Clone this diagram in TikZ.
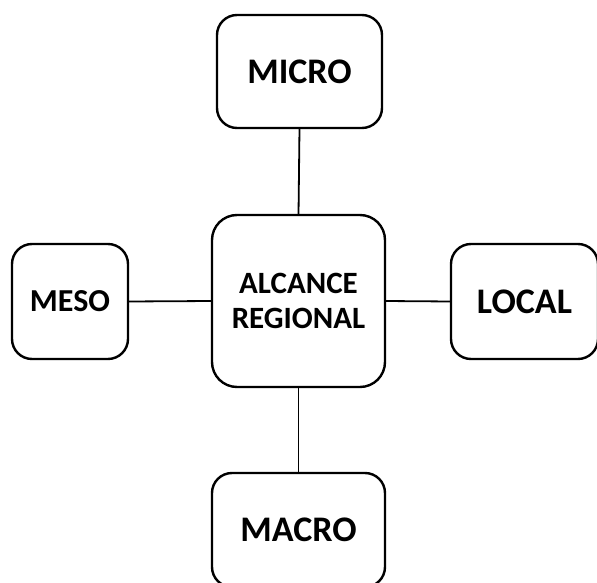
\documentclass[tikz,border=0pt]{standalone}
\usepackage{fontspec}
\setmainfont{Carlito}
\begin{document}
\begin{tikzpicture}[x=1pt,y=-1pt,
  box/.style={draw=black,line width=2.4pt,rounded corners=20pt,fill=white,inner sep=0pt,outer sep=0pt,font=\bfseries,align=center},
  conn/.style={draw=black,line width=1.8pt}]
\useasboundingbox (0,0) rectangle (597,583);
\clip (0,0) rectangle (597,583);
\node[box,minimum width=165pt,minimum height=113pt,font=\bfseries\fontsize{36}{40}\selectfont] (micro) at (299.5,71.5) {MICRO};
\node[box,minimum width=173pt,minimum height=172pt,rounded corners=25pt,font=\bfseries\fontsize{31}{35}\selectfont] (center) at (298.5,301) {ALCANCE\\REGIONAL};
\node[box,minimum width=116pt,minimum height=115pt,font=\bfseries\fontsize{32}{36}\selectfont] (meso) at (70,301.5) {MESO};
\node[box,minimum width=147pt,minimum height=115pt,font=\bfseries\fontsize{36}{40}\selectfont] (local) at (524.5,301.5) {LOCAL};
\node[box,minimum width=173pt,minimum height=114pt,font=\bfseries\fontsize{36}{40}\selectfont] (macro) at (298.5,530) {MACRO};
\draw[conn] (micro.south) -- (center.north);
\draw[conn] (center.south) -- (macro.north);
\draw[conn] (meso.east) -- (center.west);
\draw[conn] (center.east) -- (local.west);
\end{tikzpicture}
\end{document}
